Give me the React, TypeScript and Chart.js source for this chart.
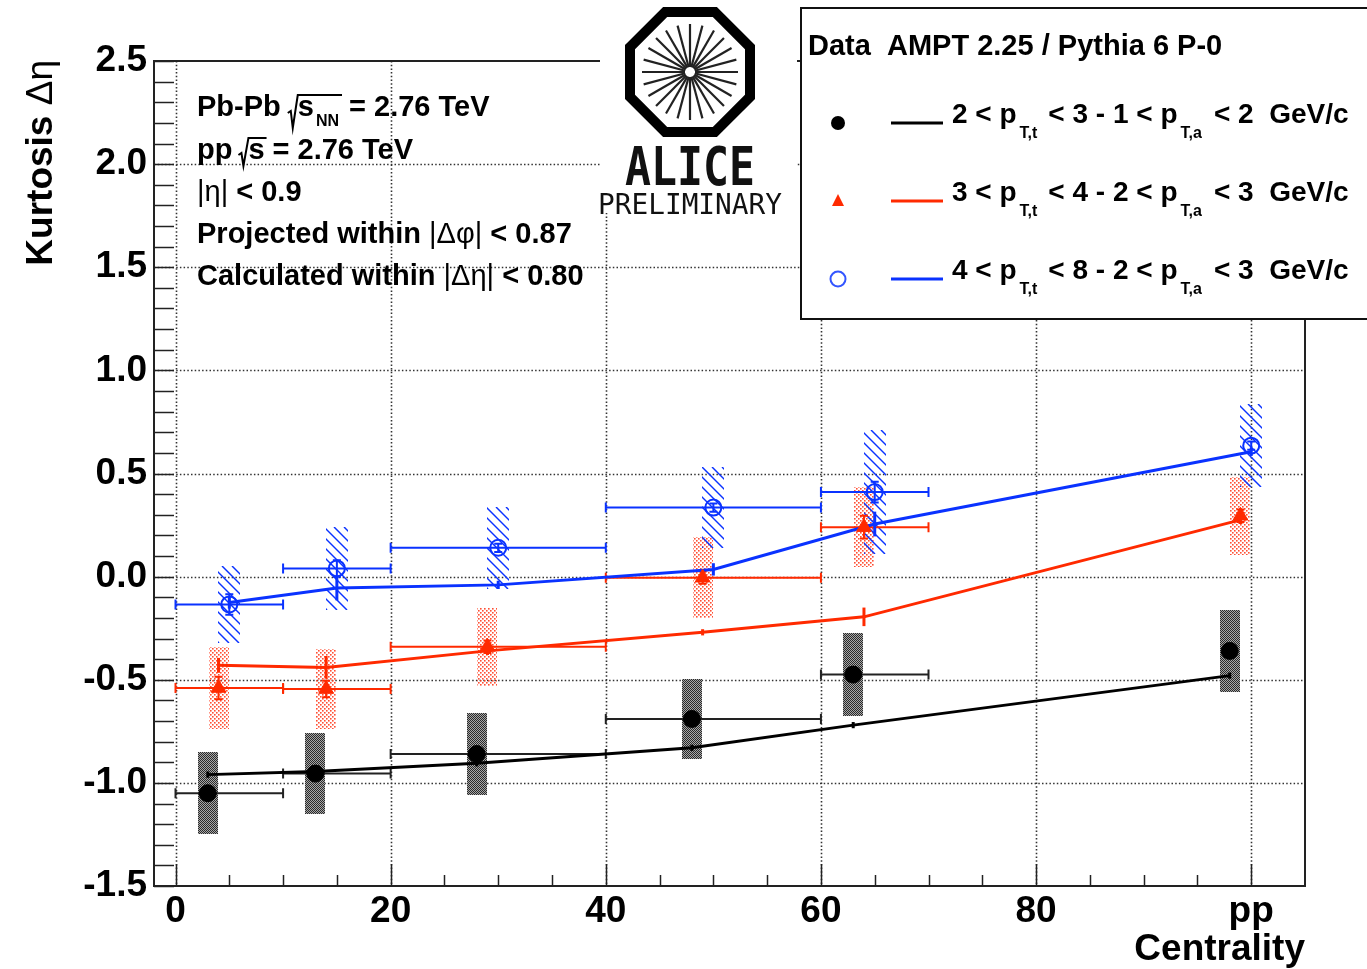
import React, { useEffect, useRef } from 'react';
import { Chart, registerables } from 'chart.js';
Chart.register(...registerables);

// ---------- data ----------
const xTickValues = [0, 20, 40, 60, 80, 100];
const xTickLabels = ['0', '20', '40', '60', '80', 'pp'];
const yTickValues = [-1.5, -1, -0.5, 0, 0.5, 1, 1.5, 2, 2.5];

// centrality bins (x error bars of the data); pp has none
const binLow: (number | null)[] = [0, 10, 20, 40, 60, null];
const binHigh: (number | null)[] = [10, 20, 40, 60, 70, null];

// Data: 2<pTt<3 - 1<pTa<2
const dataBlackX = [3, 13, 28, 48, 63, 98];
const dataBlackY = [-1.05, -0.955, -0.86, -0.69, -0.475, -0.36];
const dataBlackStat = [0.02, 0.02, 0.02, 0.02, 0.02, 0.02];
const dataBlackSys = [0.2, 0.195, 0.2, 0.195, 0.2, 0.2];

// Data: 3<pTt<4 - 2<pTa<3
const dataRedX = [4, 14, 29, 49, 64, 99];
const dataRedY = [-0.54, -0.545, -0.34, -0.005, 0.24, 0.295];
const dataRedStat = [0.055, 0.04, 0.03, 0.03, 0.055, 0.03];
const dataRedSys = [0.2, 0.195, 0.19, 0.195, 0.195, 0.19];

// Data: 4<pTt<8 - 2<pTa<3
const dataBlueX = [5, 15, 30, 50, 65, 100];
const dataBlueY = [-0.135, 0.04, 0.14, 0.335, 0.41, 0.635];
const dataBlueStat = [0.05, 0.04, 0.02, 0.02, 0.05, 0.02];
const dataBlueSys = [0.185, 0.2, 0.2, 0.195, 0.3, 0.2];

// AMPT 2.25 / Pythia 6 P-0 model curves
const modelBlackX = [3, 13, 28, 48, 63, 98];
const modelBlackY = [-0.96, -0.945, -0.905, -0.83, -0.72, -0.48];
const modelBlackErr = [0.015, 0.015, 0.015, 0.015, 0.015, 0.015];

const modelRedX = [4, 14, 29, 49, 64, 99];
const modelRedY = [-0.43, -0.44, -0.36, -0.27, -0.195, 0.275];
const modelRedErr = [0.036, 0.055, 0.02, 0.015, 0.045, 0.02];

const modelBlueX = [5, 15, 30, 50, 65, 100];
const modelBlueY = [-0.125, -0.055, -0.04, 0.035, 0.255, 0.605];
const modelBlueErr = [0.03, 0.06, 0.02, 0.03, 0.06, 0.02];

const legendLabels = [
  ['2 < p', 'T,t', '< 3 - 1 < p', 'T,a', '< 2  GeV/c'],
  ['3 < p', 'T,t', '< 4 - 2 < p', 'T,a', '< 3  GeV/c'],
  ['4 < p', 'T,t', '< 8 - 2 < p', 'T,a', '< 3  GeV/c'],
];

// ---------- styles ----------
const BLACK = '#000000';
const RED = '#ff2a00';
const BLUE = '#0a32ff';
const FONT = "'Liberation Sans', Arial, Helvetica, sans-serif";

function makePatterns(ctx: CanvasRenderingContext2D) {
  const c1 = document.createElement('canvas');
  c1.width = 2; c1.height = 2;
  const g1 = c1.getContext('2d')!;
  g1.fillStyle = '#a8a8a8';
  g1.fillRect(0, 0, 2, 2);
  g1.fillStyle = '#2a2a2a';
  g1.fillRect(0, 0, 1, 1);
  g1.fillRect(1, 1, 1, 1);
  const c2 = document.createElement('canvas');
  c2.width = 4; c2.height = 4;
  const g2 = c2.getContext('2d')!;
  g2.fillStyle = 'rgba(255,60,30,0.9)';
  g2.fillRect(0, 0, 1.6, 1.6);
  g2.fillRect(2, 2, 1.6, 1.6);
  return {
    dark: ctx.createPattern(c1, 'repeat')!,
    red: ctx.createPattern(c2, 'repeat')!,
  };
}

const pts = (xs: number[], ys: number[]) => xs.map((x, i) => ({ x, y: ys[i] }));

export default function App() {
  const ref = useRef<HTMLCanvasElement>(null);

  useEffect(() => {
    document.body.style.margin = '0';
    const canvas = ref.current!;
    const ctx0 = canvas.getContext('2d')!;
    const patterns = makePatterns(ctx0);

    const dataSeries = [
      { x: dataBlackX, y: dataBlackY, stat: dataBlackStat, sys: dataBlackSys, color: '#222', box: 'dark' },
      { x: dataRedX, y: dataRedY, stat: dataRedStat, sys: dataRedSys, color: RED, box: 'red' },
      { x: dataBlueX, y: dataBlueY, stat: dataBlueStat, sys: dataBlueSys, color: BLUE, box: 'hatch' },
    ];
    const modelSeries = [
      { x: modelBlackX, y: modelBlackY, err: modelBlackErr, color: BLACK },
      { x: modelRedX, y: modelRedY, err: modelRedErr, color: RED },
      { x: modelBlueX, y: modelBlueY, err: modelBlueErr, color: BLUE },
    ];

    const drawSegs = (ctx: CanvasRenderingContext2D, x: number, y: number, segs: [string, string][]) => {
      let cx = x;
      for (const [t, f] of segs) {
        ctx.font = f;
        ctx.fillText(t, cx, y);
        cx += ctx.measureText(t).width;
      }
      return cx;
    };

    const decor = {
      id: 'rootDecor',
      beforeDatasetsDraw(chart: any) {
        const { ctx, chartArea: a, scales } = chart;
        const X = (v: number) => scales.x.getPixelForValue(v);
        const Y = (v: number) => scales.y.getPixelForValue(v);
        ctx.save();
        // grid
        ctx.strokeStyle = '#333';
        ctx.lineWidth = 1.6;
        ctx.setLineDash([1.5, 2.2]);
        for (const v of xTickValues) {
          const p = Math.round(X(v)) + 0.5;
          ctx.beginPath(); ctx.moveTo(p, a.top); ctx.lineTo(p, a.bottom); ctx.stroke();
        }
        for (const v of yTickValues.slice(1, -1)) {
          const p = Math.round(Y(v)) + 0.5;
          ctx.beginPath(); ctx.moveTo(a.left, p); ctx.lineTo(a.right, p); ctx.stroke();
        }
        ctx.setLineDash([]);

        // systematic boxes
        const hw = 10;
        for (const s of dataSeries) {
          s.x.forEach((xv, i) => {
            const cx = Math.round(X(xv));
            const y0 = Math.round(Y(s.y[i] + s.sys[i]));
            const y1 = Math.round(Y(s.y[i] - s.sys[i]));
            if (s.box === 'hatch') {
              ctx.save();
              ctx.beginPath();
              ctx.rect(cx - hw - 1, y0, 2 * hw + 2, y1 - y0);
              ctx.clip();
              ctx.strokeStyle = BLUE;
              ctx.lineWidth = 1.5;
              const h = y1 - y0;
              for (let k = -h - 30; k < 40; k += 10) {
                ctx.beginPath();
                ctx.moveTo(cx - hw + k, y0);
                ctx.lineTo(cx - hw + k + h, y0 + h);
                ctx.stroke();
              }
              ctx.restore();
            } else {
              ctx.fillStyle = (patterns as any)[s.box];
              ctx.fillRect(cx - hw, y0, 2 * hw, y1 - y0);
            }
          });
        }

        // inside ticks
        ctx.strokeStyle = '#222';
        ctx.lineWidth = 1.5;
        for (let k = 0; k <= 40; k++) {
          const v = -1.5 + k * 0.1;
          const p = Math.round(Y(v)) + 0.5;
          ctx.beginPath(); ctx.moveTo(a.left, p); ctx.lineTo(a.left + 20, p); ctx.stroke();
        }
        for (let v = 0; v <= 100; v += 5) {
          const major = v % 20 === 0;
          const p = Math.round(X(v)) + 0.5;
          ctx.beginPath(); ctx.moveTo(p, a.bottom); ctx.lineTo(p, a.bottom - (major ? 22 : 11)); ctx.stroke();
        }

        // data error bars
        for (const s of dataSeries) {
          ctx.strokeStyle = s.color;
          ctx.lineWidth = 2;
          s.x.forEach((xv, i) => {
            const yy = Y(s.y[i]);
            const lo = binLow[i], hi = binHigh[i];
            if (lo !== null && hi !== null) {
              const x0 = X(lo), x1 = X(hi);
              ctx.beginPath();
              ctx.moveTo(x0, yy); ctx.lineTo(x1, yy);
              ctx.moveTo(x0, yy - 5); ctx.lineTo(x0, yy + 5);
              ctx.moveTo(x1, yy - 5); ctx.lineTo(x1, yy + 5);
              ctx.stroke();
            }
            const cx = X(xv);
            const t = Y(s.y[i] + s.stat[i]), b = Y(s.y[i] - s.stat[i]);
            ctx.beginPath();
            ctx.moveTo(cx, t); ctx.lineTo(cx, b);
            ctx.moveTo(cx - 4, t); ctx.lineTo(cx + 4, t);
            ctx.moveTo(cx - 4, b); ctx.lineTo(cx + 4, b);
            ctx.stroke();
          });
        }
        // model error bars
        for (const m of modelSeries) {
          ctx.strokeStyle = m.color;
          ctx.lineWidth = 3;
          m.x.forEach((xv, i) => {
            const cx = X(xv);
            ctx.beginPath();
            ctx.moveTo(cx, Y(m.y[i] + m.err[i])); ctx.lineTo(cx, Y(m.y[i] - m.err[i]));
            ctx.stroke();
          });
        }
        ctx.restore();
      },
      afterDatasetsDraw(chart: any) {
        const { ctx, chartArea: a } = chart;
        ctx.save();
        ctx.strokeStyle = '#222';
        ctx.lineWidth = 2;
        ctx.strokeRect(a.left, a.top, a.right - a.left, a.bottom - a.top);
        ctx.restore();
      },
      afterDraw(chart: any) {
        const { ctx, chartArea: a } = chart;
        ctx.save();
        ctx.fillStyle = '#000';
        ctx.textBaseline = 'middle';
        ctx.textAlign = 'left';
        const B = `bold 29px ${FONT}`;
        const N = `29px ${FONT}`;
        const S = `bold 16px ${FONT}`;
        ctx.strokeStyle = '#000';
        ctx.lineWidth = 2;
        // row 1: Pb-Pb sqrt(s_NN) = 2.76 TeV
        let e = drawSegs(ctx, 197, 108, [['Pb-Pb', B]]);
        let sx = e + 7;
        let se = drawSegs(ctx, sx + 10, 108, [['s', B]]);
        ctx.font = S;
        ctx.fillText('NN', se + 2, 122);
        const nnEnd = se + 2 + ctx.measureText('NN').width;
        ctx.beginPath();
        ctx.moveTo(sx, 113); ctx.lineTo(sx + 3, 111); ctx.lineTo(sx + 5, 128); ctx.lineTo(sx + 10, 95); ctx.lineTo(nnEnd + 3, 95);
        ctx.stroke();
        drawSegs(ctx, nnEnd + 10, 108, [['= 2.76 TeV', B]]);
        // row 2: pp sqrt(s) = 2.76 TeV
        e = drawSegs(ctx, 197, 151, [['pp', B]]);
        sx = e + 6;
        se = drawSegs(ctx, sx + 10, 151, [['s', B]]);
        ctx.beginPath();
        ctx.moveTo(sx, 155); ctx.lineTo(sx + 3, 153); ctx.lineTo(sx + 5, 166); ctx.lineTo(sx + 10, 138); ctx.lineTo(se + 2, 138);
        ctx.stroke();
        drawSegs(ctx, se + 8, 151, [['= 2.76 TeV', B]]);
        drawSegs(ctx, 197, 193, [['|\u03b7|', N], [' < 0.9', B]]);
        drawSegs(ctx, 197, 235, [['Projected within ', B], ['|\u0394\u03c6|', N], [' < 0.87', B]]);
        drawSegs(ctx, 197, 277, [['Calculated within ', B], ['|\u0394\u03b7|', N], [' < 0.80', B]]);

        // axis titles
        ctx.font = `bold 37px ${FONT}`;
        ctx.textAlign = 'right';
        ctx.fillText('Centrality', a.right, 950);
        ctx.save();
        ctx.translate(42, 60);
        ctx.rotate(-Math.PI / 2);
        ctx.textAlign = 'left';
        ctx.font = `bold 37px ${FONT}`;
        const w1 = ctx.measureText('Kurtosis ').width;
        ctx.font = `37px ${FONT}`;
        const w2 = ctx.measureText('\u0394\u03b7').width;
        drawSegs(ctx, -(w1 + w2), 0, [['Kurtosis ', `bold 37px ${FONT}`], ['\u0394\u03b7', `37px ${FONT}`]]);
        ctx.restore();

        // ALICE logo
        ctx.fillStyle = '#fff';
        ctx.fillRect(600, 0, 197, 213);
        const cx = 690, cy = 72;
        ctx.strokeStyle = '#222';
        ctx.lineWidth = 2.2;
        for (let k = 0; k < 24; k++) {
          const t = (k * Math.PI) / 12;
          ctx.beginPath();
          ctx.moveTo(cx + 5 * Math.cos(t), cy + 5 * Math.sin(t));
          ctx.lineTo(cx + 48 * Math.cos(t), cy + 48 * Math.sin(t));
          ctx.stroke();
        }
        ctx.strokeStyle = '#000';
        ctx.lineWidth = 10;
        ctx.lineJoin = 'miter';
        const R = 60 / Math.cos(Math.PI / 8);
        ctx.beginPath();
        for (let k = 0; k < 8; k++) {
          const t = Math.PI / 8 + (k * Math.PI) / 4;
          const px = cx + R * Math.cos(t), py = cy + R * Math.sin(t);
          if (k === 0) ctx.moveTo(px, py); else ctx.lineTo(px, py);
        }
        ctx.closePath();
        ctx.stroke();
        ctx.fillStyle = '#111';
        ctx.textAlign = 'center';
        ctx.textBaseline = 'alphabetic';
        ctx.font = `bold 54px 'DejaVu Sans Mono', monospace`;
        ctx.fillText('ALICE', cx, 185, 130);
        ctx.font = `29px 'DejaVu Sans Mono', monospace`;
        ctx.fillText('PRELIMINARY', cx, 214, 184);

        // legend
        ctx.fillStyle = '#fff';
        ctx.fillRect(801, 8, 600, 311);
        ctx.strokeStyle = '#111';
        ctx.lineWidth = 2;
        ctx.strokeRect(801, 8, 600, 311);
        ctx.fillStyle = '#000';
        ctx.textAlign = 'left';
        ctx.textBaseline = 'middle';
        ctx.font = `bold 29px ${FONT}`;
        ctx.fillText('Data  AMPT 2.25 / Pythia 6 P-0', 808, 47);
        const rowY = [123, 201, 279];
        const rowCol = [BLACK, RED, BLUE];
        rowY.forEach((ry, r) => {
          const col = rowCol[r];
          if (r === 0) {
            ctx.fillStyle = col;
            ctx.beginPath(); ctx.arc(838, ry, 7, 0, Math.PI * 2); ctx.fill();
          } else if (r === 1) {
            ctx.fillStyle = col;
            ctx.beginPath(); ctx.moveTo(838, ry - 7); ctx.lineTo(844, ry + 5); ctx.lineTo(832, ry + 5); ctx.closePath(); ctx.fill();
          } else {
            ctx.strokeStyle = '#3355ff';
            ctx.lineWidth = 2;
            ctx.beginPath(); ctx.arc(838, ry, 7.5, 0, Math.PI * 2); ctx.stroke();
          }
          ctx.strokeStyle = col;
          ctx.lineWidth = 3;
          ctx.beginPath(); ctx.moveTo(891, ry); ctx.lineTo(943, ry); ctx.stroke();
          const lab = legendLabels[r];
          ctx.fillStyle = '#000';
          const ty = ry - 8;
          let x = drawSegs(ctx, 952, ty, [[lab[0], `bold 28px ${FONT}`]]);
          x = drawSegs(ctx, x + 3, ty + 19, [[lab[1], S]]);
          x = drawSegs(ctx, x + 11, ty, [[lab[2], `bold 28px ${FONT}`]]);
          x = drawSegs(ctx, x + 3, ty + 19, [[lab[3], S]]);
          drawSegs(ctx, x + 12, ty, [[lab[4], `bold 28px ${FONT}`]]);
        });
        ctx.restore();
      },
    };

    const chart = new Chart(canvas, {
      type: 'scatter',
      data: {
        datasets: [
          { type: 'scatter', data: pts(dataBlackX, dataBlackY), pointStyle: 'circle', pointRadius: 8.5, backgroundColor: BLACK, borderColor: BLACK, borderWidth: 1 },
          { type: 'scatter', data: pts(dataRedX, dataRedY), pointStyle: 'triangle', pointRadius: 8.5, backgroundColor: RED, borderColor: RED, borderWidth: 1 },
          { type: 'scatter', data: pts(dataBlueX, dataBlueY), pointStyle: 'circle', pointRadius: 8, backgroundColor: 'rgba(0,0,0,0)', borderColor: BLUE, borderWidth: 2 },
          { type: 'line', data: pts(modelBlueX, modelBlueY), borderColor: BLUE, borderWidth: 3, pointRadius: 0, fill: false, tension: 0 },
          { type: 'line', data: pts(modelRedX, modelRedY), borderColor: RED, borderWidth: 3, pointRadius: 0, fill: false, tension: 0 },
          { type: 'line', data: pts(modelBlackX, modelBlackY), borderColor: BLACK, borderWidth: 3, pointRadius: 0, fill: false, tension: 0 },
        ] as any,
      },
      options: {
        animation: false,
        responsive: false,
        devicePixelRatio: 1,
        layout: { padding: { left: 0, top: 61, right: 62, bottom: 0 } },
        plugins: { legend: { display: false }, tooltip: { enabled: false } },
        scales: {
          x: {
            type: 'linear',
            min: -2,
            max: 105,
            afterBuildTicks: (s: any) => { s.ticks = xTickValues.map((v) => ({ value: v })); },
            afterFit: (s: any) => { s.height = 83; },
            grid: { display: false, drawTicks: false },
            border: { display: false },
            ticks: {
              autoSkip: false,
              maxRotation: 0,
              padding: 4,
              color: '#000',
              font: { family: FONT, size: 37, weight: 'bold' },
              callback: (v: any) => xTickLabels[xTickValues.indexOf(Number(v))] ?? '',
            },
          },
          y: {
            type: 'linear',
            min: -1.5,
            max: 2.5,
            afterBuildTicks: (s: any) => { s.ticks = yTickValues.map((v) => ({ value: v })); },
            afterFit: (s: any) => { s.width = 154; },
            grid: { display: false, drawTicks: false },
            border: { display: false },
            ticks: {
              autoSkip: false,
              padding: 7,
              color: '#000',
              font: { family: FONT, size: 37, weight: 'bold' },
              callback: (v: any) => Number(v).toFixed(1),
            },
          },
        },
      } as any,
      plugins: [decor],
    });
    return () => chart.destroy();
  }, []);

  return <canvas ref={ref} width={1367} height={969} style={{ display: 'block' }} />;
}
